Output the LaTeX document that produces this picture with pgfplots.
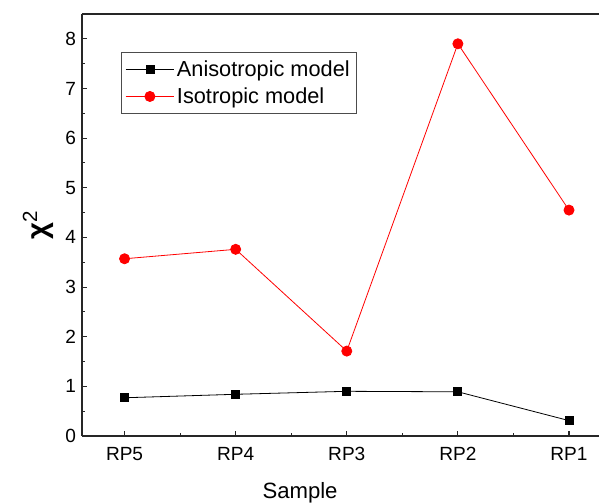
\documentclass[border=0pt]{standalone}
\usepackage{pgfplots}
\pgfplotsset{compat=1.18}
\usepackage{fontspec}
\setmainfont{Liberation Sans}
\begin{document}
\begin{tikzpicture}[x=1pt,y=1pt]
\begin{axis}[
  name=ax,
  scale only axis,
  width=387.75pt, height=316.5pt,
  xmin=0.617, xmax=5.27,
  ymin=0, ymax=8.5,
  axis lines*=left,
  axis line style={line width=1.1pt, black!85},
  xtick={1,2,3,4,5},
  xticklabels={RP5,RP4,RP3,RP2,RP1},
  ytick={0,1,2,3,4,5,6,7,8},
  minor x tick num=1,
  minor y tick num=1,
  tick align=inside,
  major tick length=4pt,
  minor tick length=2.5pt,
  tick style={line width=0.8pt, black!85},
  /pgf/number format/assume math mode=true,
  ticklabel style={font=\fontsize{14.3}{16}\selectfont},
  yticklabel style={xshift=-1pt},
  xticklabel style={yshift=-5pt},
  xlabel={Sample},
  xlabel style={font=\fontsize{16.6}{18}\selectfont, at={(rel axis cs:0.4217,0)}, anchor=north, inner sep=0pt, yshift=-35pt},
  ylabel={\bfseries χ\textsuperscript{\mdseries 2}},
  ylabel style={font=\fontsize{22}{24}\selectfont, at={(rel axis cs:0,0.5)}, anchor=center, inner sep=0pt, yshift=33pt},
  legend style={at={(0.0754,0.91)}, anchor=north west, draw=black!70, line width=0.8pt,
    font=\fontsize{16.3}{18}\selectfont, row sep=3pt, inner ysep=4pt, inner xsep=3pt},
  legend cell align=left,
  legend image code/.code={\draw[#1] (0pt,0pt) -- (36pt,0pt); \draw[#1, mark repeat=2, mark phase=2] plot coordinates {(0pt,0pt) (18pt,0pt) (36pt,0pt)};},
  clip=false,
]
\addplot[black, line width=0.6pt, mark=square*, mark size=3pt, mark options={solid}]
  coordinates {(1,0.77) (2,0.84) (3,0.90) (4,0.89) (5,0.31)};
\addlegendentry{Anisotropic model}
\addplot[red, line width=0.6pt, mark=*, mark size=3.8pt, mark options={solid}]
  coordinates {(1,3.57) (2,3.76) (3,1.71) (4,7.90) (5,4.55)};
\addlegendentry{Isotropic model}
\draw[line width=1.1pt, black!85] (rel axis cs:0,1) -- (rel axis cs:1,1);
\end{axis}
\pgfresetboundingbox
\path ([xshift=-61.5pt,yshift=-51pt]ax.south west) rectangle ([yshift=10.5pt]ax.north east);
\end{tikzpicture}
\end{document}
